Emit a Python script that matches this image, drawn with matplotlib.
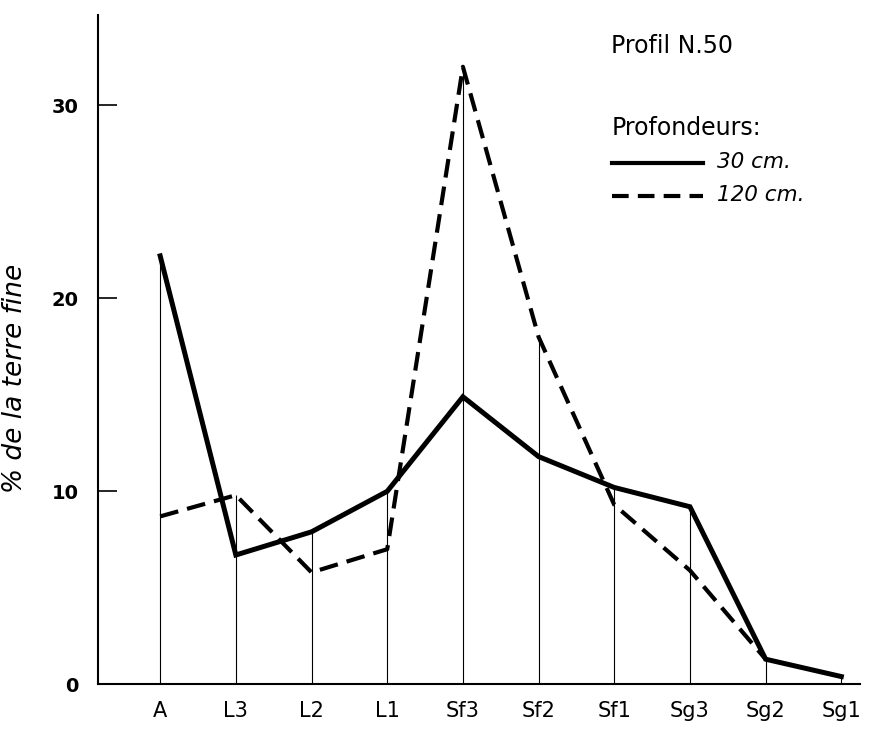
import numpy as np
import matplotlib.pyplot as plt

categories = ['A', 'L3', 'L2', 'L1', 'Sf3', 'Sf2', 'Sf1', 'Sg3', 'Sg2', 'Sg1']
prof_30 = [22.2, 6.7, 7.9, 10.0, 14.9, 11.8, 10.2, 9.2, 1.3, 0.4]
prof_120 = [8.7, 9.8, 5.8, 7.0, 32.0, 18.0, 9.3, 5.9, 1.3]
yticks = [0, 10, 20, 30]

x = np.arange(len(categories))
x120 = np.arange(len(prof_120))

fig = plt.figure(figsize=(8.76, 7.35), dpi=100)
ax = fig.add_axes([0.112, 0.069, 0.87, 0.911])

# thin verticals up to the highest of both curves
tops = [max(a, b) for a, b in zip(prof_30, prof_120 + [0] * (len(prof_30) - len(prof_120)))]
ax.vlines(x, 0, tops, color='black', lw=0.8)

ax.plot(x, prof_30, color='black', lw=3.6, solid_joinstyle='miter')
ax.plot(x120, prof_120, color='black', lw=3.0, dashes=(4.5, 2.2))

ax.set_xlim(-0.82, 9.25)
ax.set_ylim(0, 34.7)
ax.set_xticks(x)
ax.set_xticklabels(categories, fontsize=15)
ax.tick_params(axis='x', length=0, pad=12)
ax.set_yticks(yticks)
ax.set_yticklabels([str(t) for t in yticks], fontsize=14, fontweight='bold')
ax.tick_params(axis='y', direction='in', length=14, width=1.2, pad=14)

for s in ['top', 'right']:
    ax.spines[s].set_visible(False)
ax.spines['left'].set_linewidth(1.5)
ax.spines['bottom'].set_linewidth(1.5)

ax.set_ylabel('% de la terre fine', fontsize=19, style='italic')
ax.yaxis.set_label_coords(-0.092, 0.457)

# legend drawn by hand, like the original
fig.text(0.697, 0.937, 'Profil N.50', fontsize=17, va='center')
fig.text(0.698, 0.826, 'Profondeurs:', fontsize=17, va='center')
fig.add_artist(plt.Line2D([0.699, 0.802], [0.778, 0.778], color='black', lw=3.0))
fig.add_artist(plt.Line2D([0.699, 0.802], [0.733, 0.733], color='black', lw=3.0, dashes=(4, 2.2)))
fig.text(0.818, 0.779, '30 cm.', fontsize=15.5, style='italic', va='center')
fig.text(0.818, 0.735, '120 cm.', fontsize=15.5, style='italic', va='center')

fig.savefig('out.png', dpi=100)
